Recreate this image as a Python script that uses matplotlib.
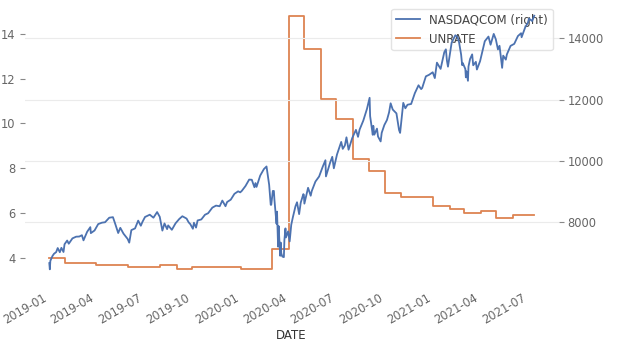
import matplotlib
matplotlib.use("Agg")
import matplotlib.pyplot as plt
import pandas as pd

# monthly unemployment rate (forward filled on the daily index in the original)
unrate_months = ["2019-01", "2019-02", "2019-03", "2019-04", "2019-05", "2019-06",
                 "2019-07", "2019-08", "2019-09", "2019-10", "2019-11", "2019-12",
                 "2020-01", "2020-02", "2020-03", "2020-04", "2020-05", "2020-06",
                 "2020-07", "2020-08", "2020-09", "2020-10", "2020-11", "2020-12",
                 "2021-01", "2021-02", "2021-03", "2021-04", "2021-05", "2021-06"]
unrate_values = [4.0, 3.8, 3.8, 3.7, 3.7, 3.6, 3.6, 3.7, 3.5, 3.6, 3.6, 3.6,
                 3.5, 3.5, 4.4, 14.8, 13.3, 11.1, 10.2, 8.4, 7.9, 6.9, 6.7, 6.7,
                 6.3, 6.2, 6.0, 6.1, 5.8, 5.9]

# NASDAQ composite closes
nasdaq_dates = [
    "2019-01-02", "2019-01-03", "2019-01-04", "2019-01-08", "2019-01-11", "2019-01-15",
    "2019-01-18", "2019-01-22", "2019-01-25", "2019-01-29", "2019-01-31", "2019-02-05",
    "2019-02-08", "2019-02-13", "2019-02-15", "2019-02-22", "2019-02-28", "2019-03-05",
    "2019-03-08", "2019-03-15", "2019-03-21", "2019-03-22", "2019-03-29", "2019-04-05",
    "2019-04-12", "2019-04-18", "2019-04-26", "2019-05-03", "2019-05-07", "2019-05-13",
    "2019-05-17", "2019-05-23", "2019-05-31", "2019-06-03", "2019-06-07", "2019-06-14",
    "2019-06-20", "2019-06-25", "2019-06-28", "2019-07-03", "2019-07-12", "2019-07-19",
    "2019-07-26", "2019-07-31", "2019-08-05", "2019-08-09", "2019-08-14", "2019-08-16",
    "2019-08-23", "2019-08-30", "2019-09-06", "2019-09-12", "2019-09-20", "2019-09-24",
    "2019-09-27", "2019-10-02", "2019-10-04", "2019-10-08", "2019-10-11", "2019-10-18",
    "2019-10-25", "2019-10-31", "2019-11-08", "2019-11-15", "2019-11-22", "2019-11-27",
    "2019-12-03", "2019-12-06", "2019-12-13", "2019-12-20", "2019-12-27", "2019-12-31",
    "2020-01-03", "2020-01-10", "2020-01-17", "2020-01-22", "2020-01-27", "2020-01-29",
    "2020-01-31", "2020-02-07", "2020-02-14", "2020-02-19", "2020-02-21", "2020-02-24",
    "2020-02-27", "2020-02-28", "2020-03-02", "2020-03-04", "2020-03-05", "2020-03-09",
    "2020-03-10", "2020-03-12", "2020-03-13", "2020-03-16", "2020-03-17", "2020-03-18",
    "2020-03-20", "2020-03-23", "2020-03-24", "2020-03-26", "2020-03-27", "2020-03-31",
    "2020-04-03", "2020-04-06", "2020-04-09", "2020-04-14", "2020-04-17", "2020-04-21",
    "2020-04-24", "2020-04-29", "2020-04-30", "2020-05-01", "2020-05-08", "2020-05-13",
    "2020-05-15", "2020-05-22", "2020-05-29", "2020-06-05", "2020-06-10", "2020-06-11",
    "2020-06-19", "2020-06-23", "2020-06-26", "2020-06-30", "2020-07-02", "2020-07-10",
    "2020-07-13", "2020-07-17", "2020-07-20", "2020-07-24", "2020-07-31", "2020-08-07",
    "2020-08-11", "2020-08-14", "2020-08-21", "2020-08-28", "2020-09-02", "2020-09-03",
    "2020-09-08", "2020-09-09", "2020-09-11", "2020-09-16", "2020-09-18", "2020-09-23",
    "2020-09-25", "2020-09-30", "2020-10-05", "2020-10-09", "2020-10-12", "2020-10-16",
    "2020-10-23", "2020-10-28", "2020-10-30", "2020-11-05", "2020-11-09", "2020-11-13",
    "2020-11-20", "2020-11-27", "2020-12-04", "2020-12-09", "2020-12-11", "2020-12-18",
    "2020-12-24", "2020-12-31", "2021-01-04", "2021-01-08", "2021-01-15", "2021-01-22",
    "2021-01-25", "2021-01-27", "2021-01-29", "2021-02-05", "2021-02-12", "2021-02-16",
    "2021-02-19", "2021-02-23", "2021-02-25", "2021-02-26", "2021-03-03", "2021-03-04",
    "2021-03-05", "2021-03-08", "2021-03-09", "2021-03-12", "2021-03-16", "2021-03-18",
    "2021-03-23", "2021-03-25", "2021-03-31", "2021-04-09", "2021-04-16", "2021-04-20",
    "2021-04-26", "2021-04-30", "2021-05-04", "2021-05-07", "2021-05-12", "2021-05-14",
    "2021-05-19", "2021-05-21", "2021-05-28", "2021-06-04", "2021-06-11", "2021-06-17",
    "2021-06-18", "2021-06-25", "2021-06-30", "2021-07-02", "2021-07-08", "2021-07-12",
]
nasdaq_values = [
    6665.9, 6463.5, 6738.9, 6897.0, 6971.5, 7023.8,
    7157.2, 7020.4, 7164.9, 7028.3, 7281.7, 7402.1,
    7298.2, 7426.0, 7472.4, 7527.5, 7532.5, 7576.4,
    7408.1, 7688.5, 7838.9, 7643.0, 7729.3, 7938.7,
    7984.2, 7998.1, 8146.4, 8164.0, 7963.8, 7647.0,
    7816.3, 7628.3, 7453.2, 7333.0, 7742.1, 7796.7,
    8051.3, 7884.7, 8006.2, 8170.2, 8244.1, 8146.5,
    8330.2, 8175.4, 7726.0, 7959.1, 7773.9, 7895.9,
    7751.8, 7962.9, 8103.1, 8194.5, 8117.7, 7993.6,
    7940.0, 7785.3, 7982.5, 7823.8, 8057.0, 8089.5,
    8243.1, 8292.4, 8475.3, 8540.8, 8519.9, 8705.2,
    8520.6, 8656.5, 8734.9, 8924.9, 9006.6, 8972.6,
    9020.8, 9178.9, 9388.9, 9383.8, 9139.3, 9275.2,
    9150.9, 9520.5, 9731.2, 9817.2, 9576.6, 9221.3,
    8566.5, 8567.4, 9018.9, 9018.1, 8738.6, 7950.7,
    8344.3, 7201.8, 7874.9, 6904.6, 7334.8, 6989.8,
    6879.5, 6860.7, 7417.9, 7797.5, 7502.4, 7700.1,
    7373.1, 7913.2, 8153.6, 8515.7, 8650.1, 8263.2,
    8634.5, 8914.7, 8889.6, 8604.9, 9121.3, 8863.2,
    9014.6, 9324.6, 9489.9, 9814.1, 10020.3, 9492.7,
    9946.1, 10131.4, 9757.2, 10058.8, 10207.6, 10617.4,
    10390.8, 10503.2, 10767.1, 10363.2, 10745.3, 11010.9,
    10782.8, 11019.3, 11311.8, 11695.6, 12056.4, 11458.1,
    10847.7, 11141.6, 10853.5, 11050.5, 10793.3, 10633.0,
    10913.6, 11167.5, 11332.5, 11579.9, 11876.3, 11671.6,
    11548.3, 11004.9, 10911.6, 11890.9, 11713.8, 11829.3,
    11854.9, 12205.9, 12464.2, 12338.9, 12377.9, 12755.6,
    12804.7, 12888.3, 12698.4, 13201.9, 12998.5, 13543.1,
    13635.9, 13270.6, 13070.7, 13856.3, 14095.5, 14047.5,
    13874.5, 13465.2, 13119.4, 13192.3, 12997.7, 12723.5,
    12920.2, 12609.2, 13073.8, 13319.9, 13471.6, 13116.2,
    13227.7, 12977.7, 13246.9, 13900.2, 14052.3, 13786.3,
    14138.8, 13962.7, 13633.5, 13752.2, 13031.7, 13430.0,
    13299.7, 13471.0, 13748.7, 13814.5, 14069.4, 14161.4,
    14030.4, 14360.4, 14503.9, 14639.3, 14559.8, 14733.2,
]

nasdaq_x = pd.to_datetime(nasdaq_dates)
# steps carried forward to the last trading day of the data
unrate_x = list(pd.to_datetime(unrate_months)) + [nasdaq_x[-1]]
unrate_y = unrate_values + [unrate_values[-1]]

blue = "#4c72b0"
orange = "#dd8452"
tick_col = "#666666"
fs = 8.3

fig = plt.figure(figsize=(6.18, 3.48), dpi=100)
ax = fig.add_axes([24.5 / 618, 66 / 348, 534 / 618, 279 / 348])
ax2 = ax.twinx()

ax.plot(unrate_x, unrate_y, color=orange, lw=1.3, drawstyle="steps-post", label="UNRATE")
ax2.plot(nasdaq_x, nasdaq_values, color=blue, lw=1.3, zorder=6, label="NASDAQCOM (right)")

for a in (ax, ax2):
    for s in a.spines.values():
        s.set_visible(False)
    a.tick_params(axis="y", colors="#888888", labelcolor=tick_col, labelsize=fs,
                  length=3.5, width=0.8, pad=3)
ax2.grid(axis="y", color="#ebebeb", lw=0.8)
ax2.set_axisbelow(True)

ax.tick_params(axis="x", labelcolor=tick_col, labelsize=fs, length=0, pad=7)
for lab in ax.get_xticklabels():
    lab.set_rotation(30)
    lab.set_ha("right")
ax.set_xlabel("DATE", fontsize=fs + 0.2, color="#333333", labelpad=1.5)

h1, l1 = ax.get_legend_handles_labels()
h2, l2 = ax2.get_legend_handles_labels()
leg = ax2.legend(h2 + h1, l2 + l1, loc="upper right", fontsize=fs + 0.2,
                 frameon=True, edgecolor="#dddddd", labelcolor="#444444")
leg.set_zorder(5)

fig.savefig("out.png", dpi=100)
